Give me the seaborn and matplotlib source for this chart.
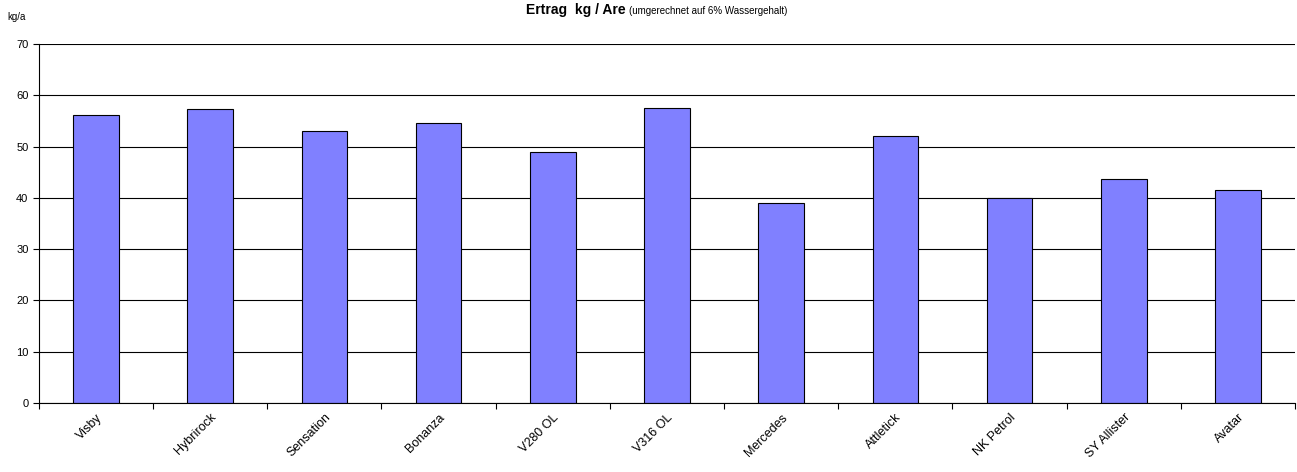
import matplotlib
matplotlib.use("Agg")
import matplotlib.pyplot as plt
import seaborn as sns
import numpy as np

# Sorten und Ertrag (kg/a)
sorten = ['Visby', 'Hybrirock', 'Sensation', 'Bonanza', 'V280 OL', 'V316 OL',
          'Mercedes', 'Attletick', 'NK Petrol', 'SY Allister', 'Avatar']
ertrag = [56.1, 57.3, 53.0, 54.6, 48.9, 57.5, 39.0, 52.1, 39.9, 43.7, 41.6]
y_ticks = [0, 10, 20, 30, 40, 50, 60, 70]

sns.set_style('white')
plt.rcParams['font.family'] = ['Liberation Sans', 'DejaVu Sans']
plt.rcParams['text.color'] = 'black'
plt.rcParams['xtick.color'] = 'black'
plt.rcParams['ytick.color'] = 'black'

fig = plt.figure(figsize=(12.97, 4.72), dpi=100)
ax = fig.add_axes([0.030, 0.146, 0.9685, 0.761])

sns.barplot(x=sorten, y=ertrag, color='#8080FF', edgecolor='black',
            linewidth=0.8, width=0.4, saturation=1, ax=ax)

ax.set_ylim(0, 70)
ax.set_xlim(-0.5, len(sorten) - 0.5)
ax.set_yticks(y_ticks)
ax.set_yticklabels([str(t) for t in y_ticks], fontsize=8)
ax.yaxis.grid(True, color='black', linewidth=0.8)
ax.set_axisbelow(True)

ax.set_xticks(range(len(sorten)))
ax.set_xticklabels(sorten, rotation=45, ha='right', rotation_mode='anchor', fontsize=9)
ax.tick_params(axis='x', which='major', length=0, pad=6)
ax.set_xticks(np.arange(-0.5, len(sorten)), minor=True)
ax.tick_params(axis='x', which='minor', bottom=True, length=4, width=0.8,
               color='black', direction='out')
ax.tick_params(axis='y', length=4, width=0.8, color='black', direction='out', left=True)

for s in ['top', 'right']:
    ax.spines[s].set_visible(False)
for s in ['left', 'bottom']:
    ax.spines[s].set_color('black')
    ax.spines[s].set_linewidth(0.8)

fig.text(0.006, 0.965, 'kg/a', fontsize=7, ha='left', va='center')
t1 = fig.text(0.4055, 0.978, 'Ertrag  kg / Are', fontsize=10, fontweight='bold',
              ha='left', va='center')
fig.canvas.draw()
bb = t1.get_window_extent()
fig.text(bb.x1 / fig.bbox.width + 0.003, 0.976, '(umgerechnet auf 6% Wassergehalt)',
         fontsize=7, ha='left', va='center')

fig.savefig('out.png', dpi=100)
